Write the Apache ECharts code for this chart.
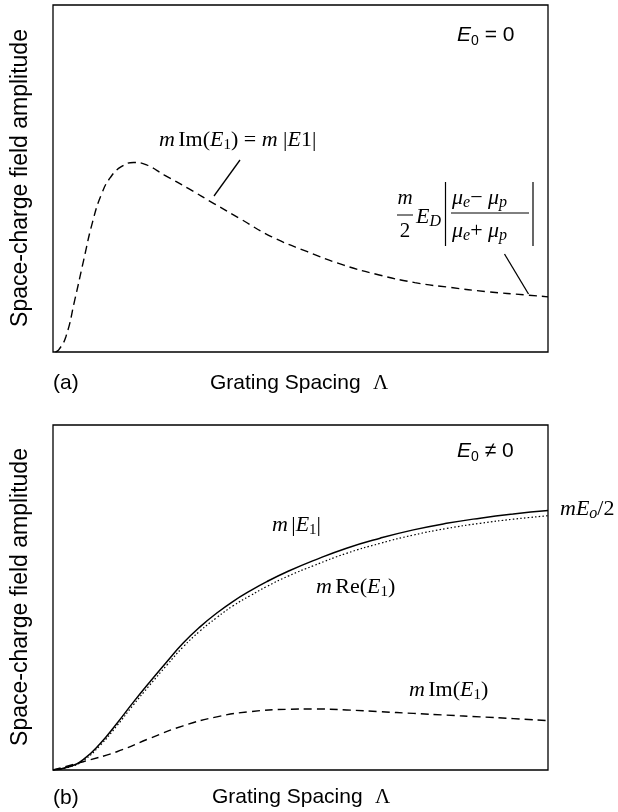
<!DOCTYPE html>
<html>
<head>
<meta charset="utf-8">
<script src="https://cdn.jsdelivr.net/npm/echarts@6/dist/echarts.min.js"></script>
<style>html,body{margin:0;padding:0;background:#fff}#c{width:618px;height:812px}</style>
</head>
<body>
<div id="c"></div>
<script>
// Panel (a): E0 = 0  (x, y in percent of the plot box)
const xTop = [0.5, 1.15, 2.6, 4.4, 6.2, 8.0, 9.8, 11.6, 13.8, 16.3, 18.9, 22.5, 27.5, 32.6, 37.7, 44.2, 51.4, 58.6, 65.9, 73.1, 80.3, 87.6, 95.9, 100];
const imTop = [0, 0.6, 4.4, 15.0, 26.5, 37.5, 45.5, 50.3, 53.4, 54.6, 53.9, 51.0, 47.0, 42.7, 38.5, 33.2, 28.9, 25.1, 22.2, 20.0, 18.6, 17.4, 16.4, 15.9];
// Panel (b): E0 != 0
const xBot = [0, 3.4, 6.1, 9.5, 12.9, 16.2, 19.6, 23.0, 26.3, 29.7, 33.1, 36.4, 39.8, 43.2, 47.5, 52.6, 59.3, 66.1, 72.8, 79.5, 86.3, 93.0, 100];
const absE = [0, 1.0, 3.0, 7.6, 13.5, 19.6, 25.6, 31.4, 36.8, 41.5, 45.5, 48.9, 51.9, 54.6, 57.6, 60.7, 64.3, 67.2, 69.6, 71.5, 73.0, 74.2, 75.2];
const reE  = [0, 0.9, 2.7, 7.1, 12.8, 18.8, 24.7, 30.4, 35.7, 40.3, 44.2, 47.6, 50.5, 53.2, 56.2, 59.2, 62.8, 65.7, 68.1, 70.0, 71.5, 72.7, 73.7];
const xIm  = [0, 6.1, 12.9, 19.6, 26.3, 33.1, 39.8, 47.5, 52.6, 59.3, 66.1, 72.8, 79.5, 86.3, 93.0, 100];
const imBot = [0, 2.4, 5.3, 9.2, 12.8, 15.4, 16.9, 17.6, 17.7, 17.4, 16.9, 16.4, 15.9, 15.4, 14.9, 14.3];

const zip = (xs, ys) => xs.map((x, i) => [x, ys[i]]);
const SANS = '"Liberation Sans", Arial, sans-serif';
const SERIF = '"Liberation Serif", "Times New Roman", serif';

const hiddenAxis = (gi) => ({
  type: 'value', gridIndex: gi, min: 0, max: 100,
  axisLine: {show: false}, axisTick: {show: false}, axisLabel: {show: false}, splitLine: {show: false}
});

const serifRich = {
  n: {fontFamily: SERIF, fontSize: 22, color: '#000', lineHeight: 26},
  i: {fontFamily: SERIF, fontSize: 22, fontStyle: 'italic', color: '#000', lineHeight: 26},
  s: {fontFamily: SERIF, fontSize: 15, color: '#000', lineHeight: 15, verticalAlign: 'bottom'},
  si: {fontFamily: SERIF, fontSize: 16, fontStyle: 'italic', color: '#000', lineHeight: 15, verticalAlign: 'bottom'}
};
const sansRich = {
  i: {fontFamily: SANS, fontSize: 21, fontStyle: 'italic', color: '#000', lineHeight: 26},
  n: {fontFamily: SANS, fontSize: 21, color: '#000', lineHeight: 26},
  s: {fontFamily: SANS, fontSize: 14, color: '#000', lineHeight: 14, verticalAlign: 'bottom'}
};

function txt(x, y, text, rich, align) {
  return {type: 'text', x: x, y: y, style: {text: text, rich: rich, align: align || 'left', verticalAlign: 'middle'}};
}
function plain(x, y, text, font, align, rotation) {
  return {type: 'text', x: x, y: y, rotation: rotation || 0,
    style: {text: text, font: font, fill: '#000', align: align || 'left', verticalAlign: 'middle'}};
}
function line(x1, y1, x2, y2, w) {
  return {type: 'line', shape: {x1: x1, y1: y1, x2: x2, y2: y2}, style: {stroke: '#000', lineWidth: w || 1.3}};
}

const lineSeries = (axis, xs, ys, width, dash) => ({
  type: 'line', xAxisIndex: axis, yAxisIndex: axis, data: zip(xs, ys), smooth: 0.5,
  showSymbol: false, silent: true, lineStyle: {color: '#000', width: width, type: dash}
});

const chart = echarts.init(document.getElementById('c'));
chart.setOption({
  animation: false,
  backgroundColor: '#fff',
  grid: [
    {left: 53, top: 5, width: 495, height: 347, show: true, borderColor: '#000', borderWidth: 1.3, backgroundColor: 'transparent'},
    {left: 53, top: 425, width: 495, height: 345, show: true, borderColor: '#000', borderWidth: 1.3, backgroundColor: 'transparent'}
  ],
  xAxis: [hiddenAxis(0), hiddenAxis(1)],
  yAxis: [hiddenAxis(0), hiddenAxis(1)],
  series: [
    lineSeries(0, xTop, imTop, 1.4, [8, 5]),
    lineSeries(1, xBot, absE, 1.5, 'solid'),
    lineSeries(1, xBot, reE, 1.2, [1.5, 2.2]),
    lineSeries(1, xIm, imBot, 1.4, [8, 5])
  ],
  graphic: [
    // y-axis titles
    plain(21, 178, 'Space-charge field amplitude', '23px ' + SANS, 'center', Math.PI / 2),
    plain(21, 597, 'Space-charge field amplitude', '23px ' + SANS, 'center', Math.PI / 2),
    // panel letters and x titles
    plain(53, 383, '(a)', '21px ' + SANS),
    plain(210, 383, 'Grating Spacing', '21px ' + SANS),
    plain(373, 383, 'Λ', '21px ' + SERIF),
    plain(53, 798, '(b)', '21px ' + SANS),
    plain(212, 797, 'Grating Spacing', '21px ' + SANS),
    plain(375, 797, 'Λ', '21px ' + SERIF),
    // E0 labels
    txt(457, 35, '{i|E}{s|0}{n| = 0}', sansRich),
    txt(457, 451, '{i|E}{s|0}{n| ≠ 0}', sansRich),
    // panel (a) annotations
    txt(159, 140, '{i|m} {n|Im(}{i|E}{s|1}{n|) = }{i|m}{n| |}{i|E}{n|1|}', serifRich),
    line(240, 160, 214, 196),
    plain(405, 198, 'm', 'italic 21px ' + SERIF, 'center'),
    line(397, 215, 413, 215, 1),
    plain(405, 231, '2', '21px ' + SERIF, 'center'),
    txt(416, 217, '{i|E}{si|D}', serifRich),
    line(445.5, 182, 445.5, 246, 1.2),
    line(533, 182, 533, 246, 1.2),
    txt(452, 198, '{i|μ}{si|e}{n|− }{i|μ}{si|p}', serifRich),
    line(451, 213, 529, 213, 1),
    txt(452, 231, '{i|μ}{si|e}{n|+ }{i|μ}{si|p}', serifRich),
    line(504.5, 254, 528.5, 294),
    // panel (b) annotations
    txt(272, 525, '{i|m} {n||}{i|E}{s|1}{n||}', serifRich),
    txt(316, 587, '{i|m} {n|Re(}{i|E}{s|1}{n|)}', serifRich),
    txt(409, 690, '{i|m} {n|Im(}{i|E}{s|1}{n|)}', serifRich),
    txt(560, 509, '{i|mE}{si|o}{n|/2}', serifRich)
  ]
});
</script>
</body>
</html>
